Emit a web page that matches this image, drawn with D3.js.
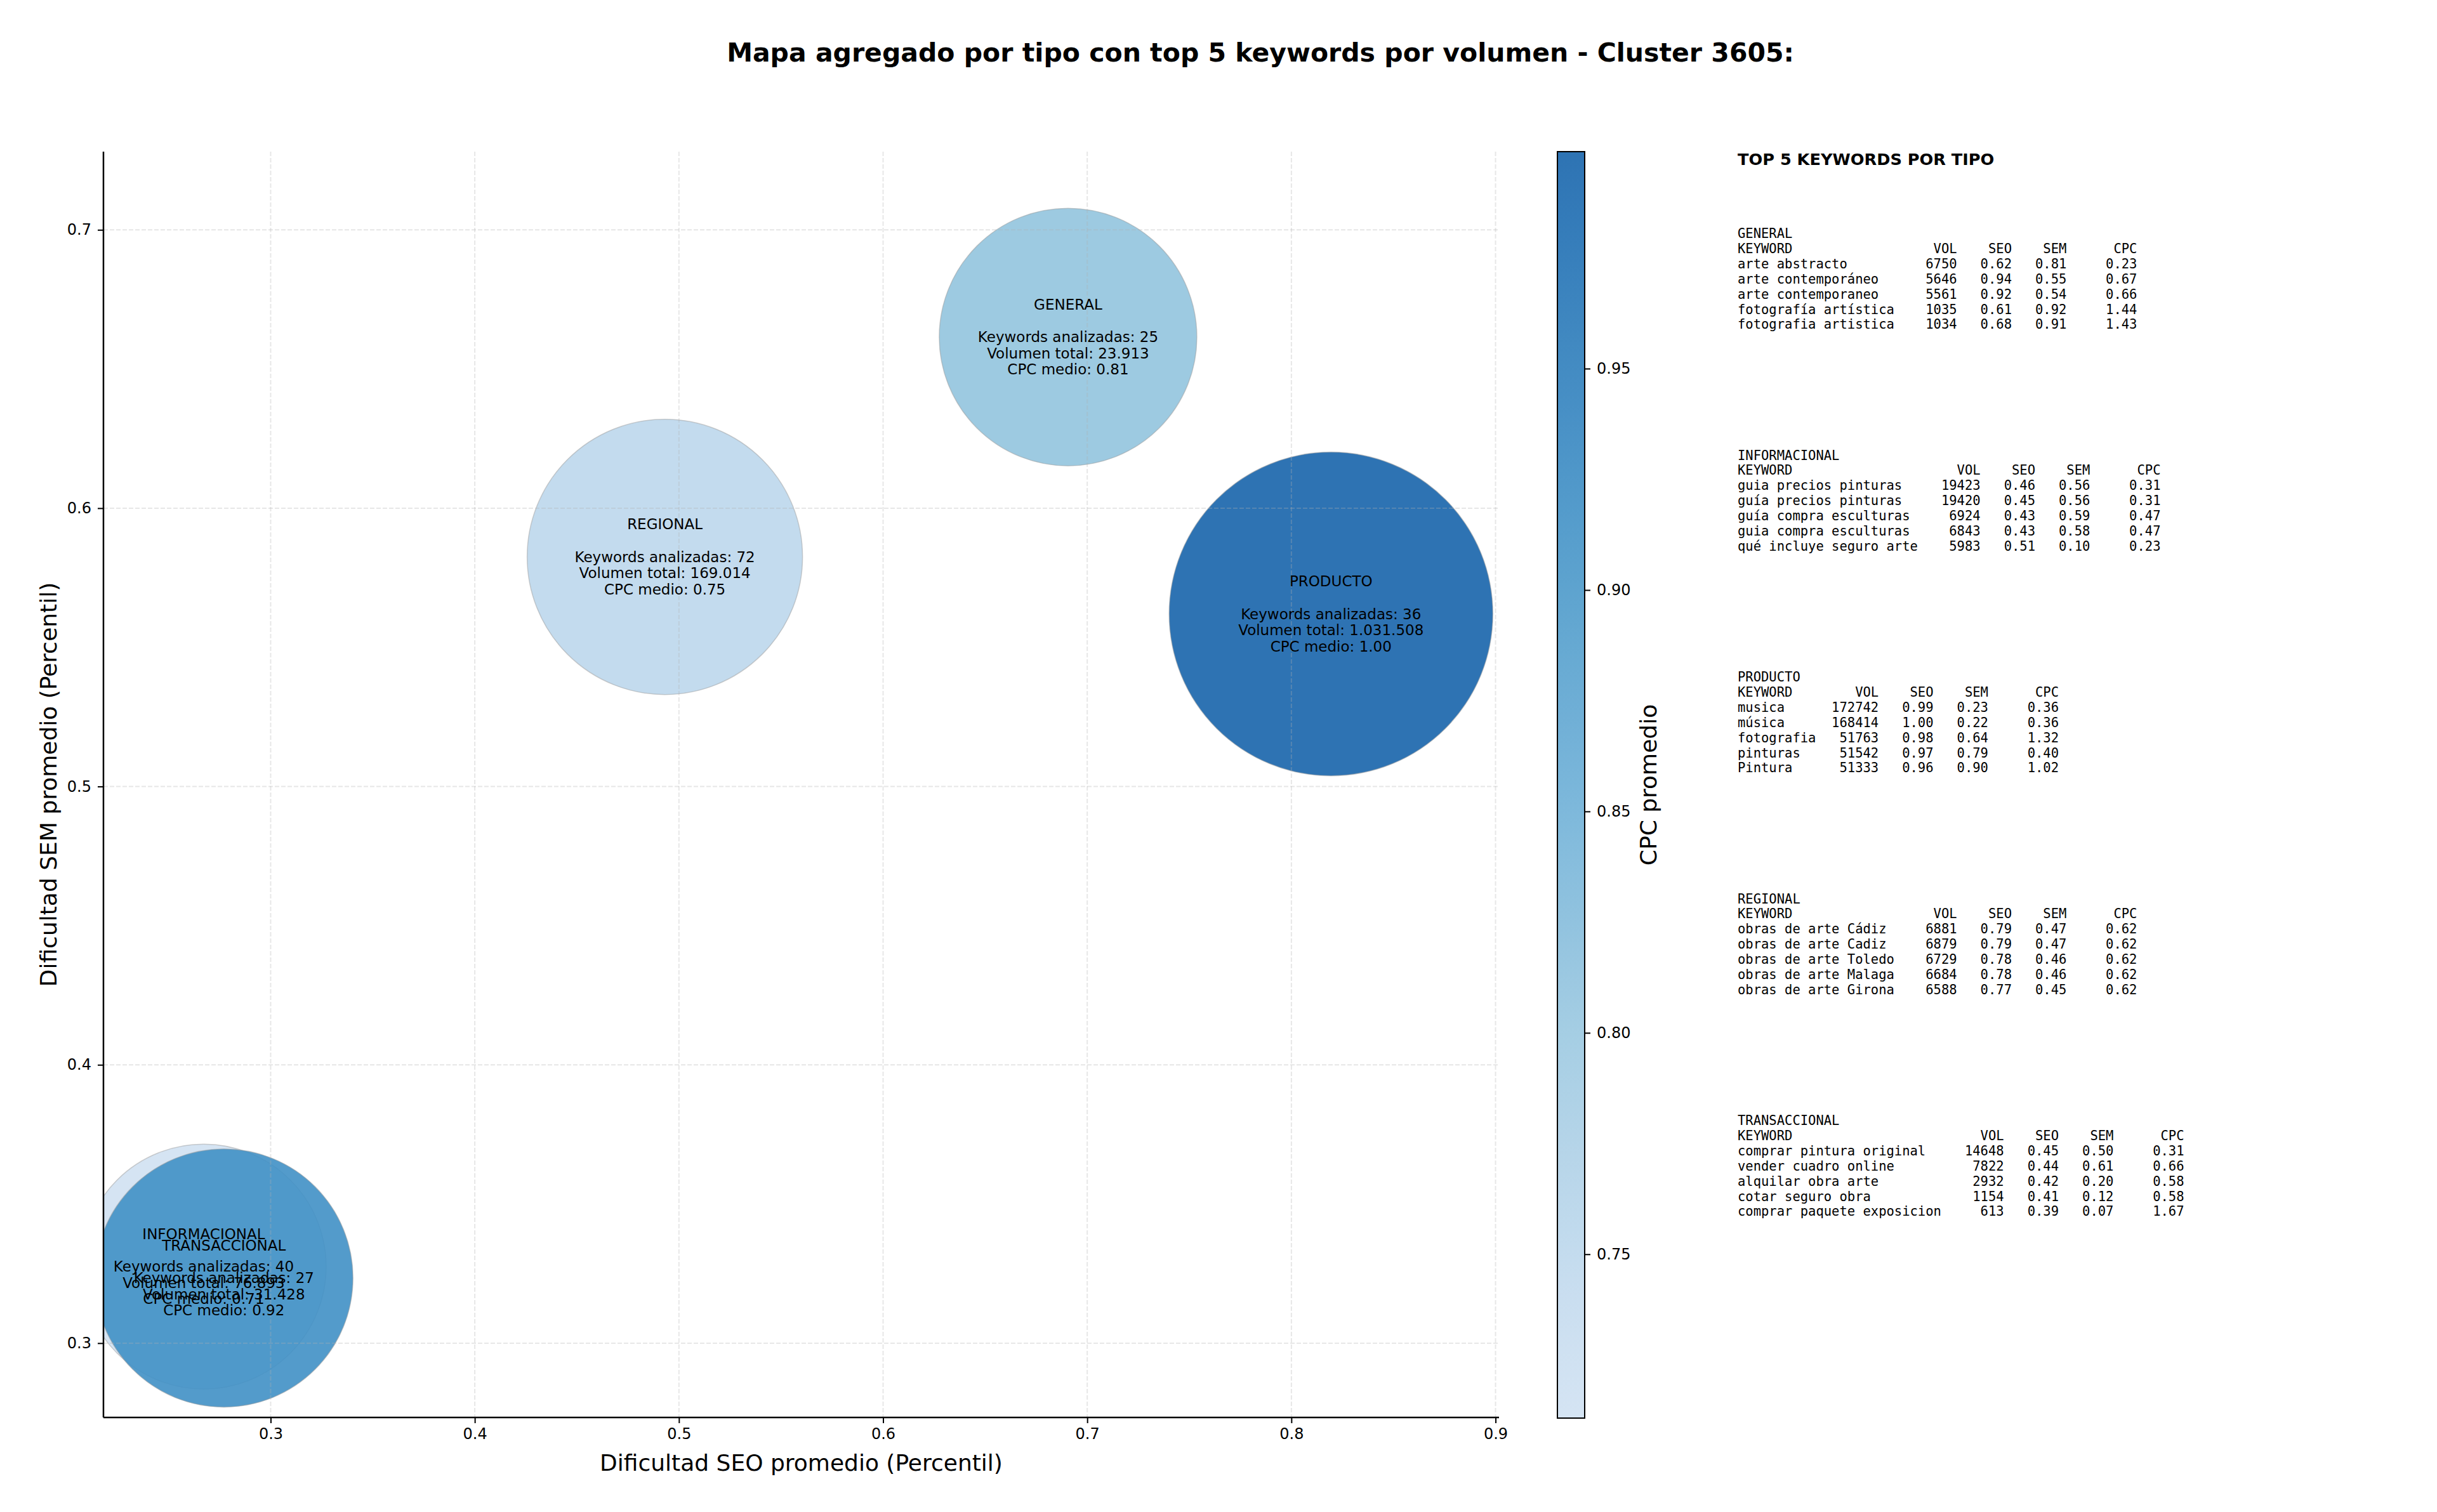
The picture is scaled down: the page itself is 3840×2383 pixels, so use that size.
<!DOCTYPE html>
<html>
<head>
<meta charset="utf-8">
<script src="https://cdn.jsdelivr.net/npm/d3@7"></script>
<style>
  body { margin: 0; background: #fff; }
  svg text { font-family: "DejaVu Sans", sans-serif; }
  .mono { font-family: "DejaVu Sans Mono", monospace; white-space: pre; }
</style>
</head>
<body>
<div id="chart"></div>
<script>
// ---- data ----
const tipos = ["GENERAL", "INFORMACIONAL", "PRODUCTO", "REGIONAL", "TRANSACCIONAL"];
const seoMedio = [0.6906, 0.2672, 0.8194, 0.4931, 0.2771];
const semMedio = [0.6615, 0.3275, 0.5620, 0.5825, 0.3234];
const cpcMedio = [0.81, 0.713, 0.999, 0.75, 0.92];
const numKeywords = [25, 40, 36, 72, 27];
const volumenTotal = [23913, 76893, 1031508, 169014, 31428];
const bubbleSize = [11650, 10530, 18390, 13310, 11700]; // marker area (pt^2)

const xTicks = [0.3, 0.4, 0.5, 0.6, 0.7, 0.8, 0.9];
const yTicks = [0.3, 0.4, 0.5, 0.6, 0.7];
const cbTicks = [0.75, 0.80, 0.85, 0.90, 0.95];

// top 5 keywords per type
const kwGeneral = ["arte abstracto", "arte contemporáneo", "arte contemporaneo", "fotografía artística", "fotografia artistica"];
const volGeneral = [6750, 5646, 5561, 1035, 1034];
const seoGeneral = [0.62, 0.94, 0.92, 0.61, 0.68];
const semGeneral = [0.81, 0.55, 0.54, 0.92, 0.91];
const cpcGeneral = [0.23, 0.67, 0.66, 1.44, 1.43];

const kwInfo = ["guia precios pinturas", "guía precios pinturas", "guía compra esculturas", "guia compra esculturas", "qué incluye seguro arte"];
const volInfo = [19423, 19420, 6924, 6843, 5983];
const seoInfo = [0.46, 0.45, 0.43, 0.43, 0.51];
const semInfo = [0.56, 0.56, 0.59, 0.58, 0.10];
const cpcInfo = [0.31, 0.31, 0.47, 0.47, 0.23];

const kwProducto = ["musica", "música", "fotografia", "pinturas", "Pintura"];
const volProducto = [172742, 168414, 51763, 51542, 51333];
const seoProducto = [0.99, 1.00, 0.98, 0.97, 0.96];
const semProducto = [0.23, 0.22, 0.64, 0.79, 0.90];
const cpcProducto = [0.36, 0.36, 1.32, 0.40, 1.02];

const kwRegional = ["obras de arte Cádiz", "obras de arte Cadiz", "obras de arte Toledo", "obras de arte Malaga", "obras de arte Girona"];
const volRegional = [6881, 6879, 6729, 6684, 6588];
const seoRegional = [0.79, 0.79, 0.78, 0.78, 0.77];
const semRegional = [0.47, 0.47, 0.46, 0.46, 0.45];
const cpcRegional = [0.62, 0.62, 0.62, 0.62, 0.62];

const kwTrans = ["comprar pintura original", "vender cuadro online", "alquilar obra arte", "cotar seguro obra", "comprar paquete exposicion"];
const volTrans = [14648, 7822, 2932, 1154, 613];
const seoTrans = [0.45, 0.44, 0.42, 0.41, 0.39];
const semTrans = [0.50, 0.61, 0.20, 0.12, 0.07];
const cpcTrans = [0.31, 0.66, 0.58, 0.58, 1.67];

const tablas = [
    {tipo: "GENERAL", kw: kwGeneral, vol: volGeneral, seo: seoGeneral, sem: semGeneral, cpc: cpcGeneral},
    {tipo: "INFORMACIONAL", kw: kwInfo, vol: volInfo, seo: seoInfo, sem: semInfo, cpc: cpcInfo},
    {tipo: "PRODUCTO", kw: kwProducto, vol: volProducto, seo: seoProducto, sem: semProducto, cpc: cpcProducto},
    {tipo: "REGIONAL", kw: kwRegional, vol: volRegional, seo: seoRegional, sem: semRegional, cpc: cpcRegional},
    {tipo: "TRANSACCIONAL", kw: kwTrans, vol: volTrans, seo: seoTrans, sem: semTrans, cpc: cpcTrans}
];

// ---- layout ----
const width = 3840, height = 2383;
const plot = {left: 163, right: 2362, top: 239, bottom: 2234};
const cb = {left: 2454, right: 2497, top: 239, bottom: 2235};

const svg = d3.select("#chart").append("svg")
    .attr("width", width)
    .attr("height", height);

const x = d3.scaleLinear().domain([0.2181, 0.9017]).range([plot.left, plot.right]);
const y = d3.scaleLinear().domain([0.2733, 0.7281]).range([plot.bottom, plot.top]);
const rScale = d3.scaleSqrt().domain([0, 20000]).range([0, Math.sqrt(20000 / Math.PI) * 240 / 72]);

// matplotlib Blues, truncated to [0.2, 0.8]
const bluesStops = ["#f7fbff", "#deebf7", "#c6dbef", "#9ecae1", "#6baed6", "#4292c6", "#2171b5", "#08519c", "#08306b"];
const blues = d3.scaleLinear().domain(d3.range(9).map(i => i / 8)).range(bluesStops).interpolate(d3.interpolateRgb);
const cpcExtent = d3.extent(cpcMedio);
const norm = d3.scaleLinear().domain(cpcExtent).range([0.2, 0.8]);
const colorOf = v => blues(norm(v));
const alpha = 0.9;

svg.append("text")
    .attr("x", 1986)
    .attr("y", 83)
    .attr("text-anchor", "middle")
    .attr("dominant-baseline", "central")
    .attr("font-size", 41)
    .attr("font-weight", "bold")
    .text("Mapa agregado por tipo con top 5 keywords por volumen - Cluster 3605:");

svg.append("defs").append("clipPath")
    .attr("id", "plotClip")
    .append("rect")
    .attr("x", plot.left).attr("y", plot.top)
    .attr("width", plot.right - plot.left)
    .attr("height", plot.bottom - plot.top);

// bubbles
const idx = d3.range(tipos.length);
svg.append("g")
    .attr("clip-path", "url(#plotClip)")
    .selectAll("circle")
    .data(idx)
    .enter().append("circle")
    .attr("cx", i => x(seoMedio[i]))
    .attr("cy", i => y(semMedio[i]))
    .attr("r", i => rScale(bubbleSize[i]))
    .attr("fill", i => colorOf(cpcMedio[i]))
    .attr("fill-opacity", alpha)
    .attr("stroke", "#a0a0a0")
    .attr("stroke-opacity", 0.5)
    .attr("stroke-width", 1.5);

// grid (drawn over the bubbles, like matplotlib)
const grid = svg.append("g").attr("stroke", "#b0b0b0").attr("stroke-opacity", 0.3)
    .attr("stroke-width", 2).attr("stroke-dasharray", "7,3");
xTicks.forEach(t => {
    grid.append("line").attr("x1", x(t)).attr("x2", x(t)).attr("y1", plot.top).attr("y2", plot.bottom);
});
yTicks.forEach(t => {
    grid.append("line").attr("x1", plot.left).attr("x2", plot.right).attr("y1", y(t)).attr("y2", y(t));
});

// bubble labels
const fmtVol = v => d3.format(",")(v).replace(/,/g, ".");
const lineH = 25.6;
idx.forEach(i => {
    const lines = [tipos[i], "", "Keywords analizadas: " + numKeywords[i],
        "Volumen total: " + fmtVol(volumenTotal[i]), "CPC medio: " + cpcMedio[i].toFixed(2)];
    const t = svg.append("text")
        .attr("text-anchor", "middle")
        .attr("font-size", 23)
        .attr("fill", "#000");
    lines.forEach((l, k) => {
        t.append("tspan")
            .attr("x", x(seoMedio[i]))
            .attr("y", y(semMedio[i]) + (k - 2) * lineH)
            .attr("dominant-baseline", "central")
            .text(l);
    });
});

// axes
const xAxis = svg.append("g")
    .attr("transform", `translate(0,${plot.bottom})`)
    .call(d3.axisBottom(x).tickValues(xTicks).tickFormat(d3.format(".1f")).tickSize(9).tickPadding(8));
const yAxis = svg.append("g")
    .attr("transform", `translate(${plot.left},0)`)
    .call(d3.axisLeft(y).tickValues(yTicks).tickFormat(d3.format(".1f")).tickSize(9).tickPadding(10));
[xAxis, yAxis].forEach(a => {
    a.select(".domain").remove();
    a.selectAll(".tick line").attr("stroke-width", 2);
    a.selectAll(".tick text").attr("font-size", 24).attr("font-family", "DejaVu Sans");
});
svg.append("line").attr("x1", plot.left).attr("x2", plot.right).attr("y1", plot.bottom).attr("y2", plot.bottom)
    .attr("stroke", "#000").attr("stroke-width", 2.5);
svg.append("line").attr("x1", plot.left).attr("x2", plot.left).attr("y1", plot.top).attr("y2", plot.bottom)
    .attr("stroke", "#000").attr("stroke-width", 2.5);

svg.append("text")
    .attr("x", (plot.left + plot.right) / 2)
    .attr("y", 2305)
    .attr("text-anchor", "middle")
    .attr("dominant-baseline", "central")
    .attr("font-size", 36)
    .text("Dificultad SEO promedio (Percentil)");
svg.append("text")
    .attr("transform", `translate(76,${(plot.top + plot.bottom) / 2}) rotate(-90)`)
    .attr("text-anchor", "middle")
    .attr("dominant-baseline", "central")
    .attr("font-size", 36)
    .text("Dificultad SEM promedio (Percentil)");

// colorbar
const cbScale = d3.scaleLinear().domain(cpcExtent).range([cb.bottom, cb.top]);
const grad = svg.select("defs").append("linearGradient")
    .attr("id", "cbGrad")
    .attr("x1", "0%").attr("y1", "100%").attr("x2", "0%").attr("y2", "0%");
d3.range(0, 1.0001, 0.05).forEach(f => {
    grad.append("stop")
        .attr("offset", (f * 100) + "%")
        .attr("stop-color", colorOf(cpcExtent[0] + f * (cpcExtent[1] - cpcExtent[0])));
});
svg.append("rect")
    .attr("x", cb.left).attr("y", cb.top)
    .attr("width", cb.right - cb.left).attr("height", cb.bottom - cb.top)
    .attr("fill", "url(#cbGrad)")
    .attr("fill-opacity", alpha);
svg.append("rect")
    .attr("x", cb.left).attr("y", cb.top)
    .attr("width", cb.right - cb.left).attr("height", cb.bottom - cb.top)
    .attr("fill", "none").attr("stroke", "#000").attr("stroke-width", 2);
const cbAxis = svg.append("g")
    .attr("transform", `translate(${cb.right},0)`)
    .call(d3.axisRight(cbScale).tickValues(cbTicks).tickFormat(d3.format(".2f")).tickSize(9).tickPadding(10));
cbAxis.select(".domain").remove();
cbAxis.selectAll(".tick line").attr("stroke-width", 2);
cbAxis.selectAll(".tick text").attr("font-size", 24).attr("font-family", "DejaVu Sans");
svg.append("text")
    .attr("transform", `translate(2597,${(cb.top + cb.bottom) / 2}) rotate(-90)`)
    .attr("text-anchor", "middle")
    .attr("dominant-baseline", "central")
    .attr("font-size", 36)
    .text("CPC promedio");

// keyword table
const tableX = 2738;
svg.append("text")
    .attr("x", tableX).attr("y", 251)
    .attr("dominant-baseline", "central")
    .attr("font-size", 25.6)
    .attr("font-weight", "bold")
    .text("TOP 5 KEYWORDS POR TIPO");

const monoSize = 20.5, monoLine = 23.9, blockGap = 349.5, firstBlock = 368;
tablas.forEach((tb, b) => {
    const w = d3.max(tb.kw, k => k.length);
    const lines = [tb.tipo,
        "KEYWORD".padEnd(w) + " " + "VOL".padStart(7) + "SEO".padStart(7) + "SEM".padStart(7) + "CPC".padStart(9)];
    tb.kw.forEach((k, i) => {
        lines.push(k.padEnd(w) + " " + String(tb.vol[i]).padStart(7) + tb.seo[i].toFixed(2).padStart(7) +
            tb.sem[i].toFixed(2).padStart(7) + tb.cpc[i].toFixed(2).padStart(9));
    });
    lines.forEach((l, k) => {
        svg.append("text")
            .attr("class", "mono")
            .attr("xml:space", "preserve")
            .attr("x", tableX)
            .attr("y", firstBlock + b * blockGap + k * monoLine)
            .attr("dominant-baseline", "central")
            .attr("font-size", monoSize)
            .text(l);
    });
});
</script>
</body>
</html>
